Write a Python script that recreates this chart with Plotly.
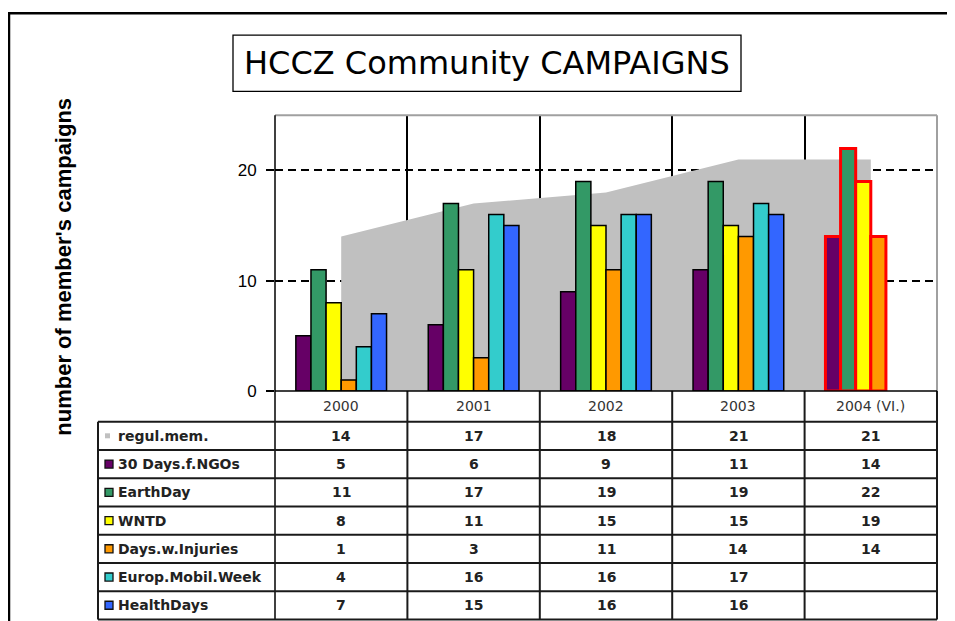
import plotly.graph_objects as go

# page body has an 8px margin; the photographed page is squeezed vertically
# by about 0.982, so vertical positions are laid out in pre-squeeze pixels.
OX, OY = 8, 8
SY = 0.982
W, H = 955 - OX, 625

# ---------------- data ----------------
years = ["2000", "2001", "2002", "2003", "2004 (VI.)"]
regul_mem = [14, 17, 18, 21, 21]
days30_ngos = [5, 6, 9, 11, 14]
earth_day = [11, 17, 19, 19, 22]
wntd = [8, 11, 15, 15, 19]
days_injuries = [1, 3, 11, 14, 14]
europ_mobil_week = [4, 16, 16, 17, None]
health_days = [7, 15, 16, 16, None]

area_name = "regul.mem."
series_names = ["30 Days.f.NGOs", "EarthDay", "WNTD", "Days.w.Injuries",
                "Europ.Mobil.Week", "HealthDays"]
series_values = [days30_ngos, earth_day, wntd, days_injuries,
                 europ_mobil_week, health_days]
y_ticks = [0, 10, 20]

# ---------------- styles ----------------
series_colors = ["#660066", "#339966", "#FFFF00", "#FF9900", "#33CCCC", "#3366FF"]
area_color = "#C0C0C0"
outline_colors = ["black", "black", "black", "black", "red"]
outline_widths = [1.5, 1.5, 1.5, 1.5, 3]

PL, PR, PT, PB = 275, 937, 115, 390          # plot area (target px)
TL = 98                                      # table left edge
HEAD_B = 420.7                               # header row bottom
n_rows = 1 + len(series_names)
TB = 618                                     # table bottom
ROW_H = (TB - HEAD_B) / n_rows
col_edges = [PL + (PR - PL) * i / len(years) for i in range(len(years) + 1)]


def px(x):
    return (x - OX) / W


def py(y):
    return 1 - (y / SY - OY) / H


fig = go.Figure()

fig.add_trace(go.Scatter(
    x=years, y=regul_mem, name=area_name, mode="lines",
    line=dict(width=0, color=area_color), fill="tozeroy",
    fillcolor=area_color, xaxis="x", yaxis="y", showlegend=False,
    hoverinfo="skip"))

for name, vals, col in zip(series_names, series_values, series_colors):
    fig.add_trace(go.Bar(
        x=years, y=vals, name=name, xaxis="x2", yaxis="y",
        marker=dict(color=col, line=dict(color=outline_colors, width=outline_widths)),
        showlegend=False))

shapes = []
annotations = []


def line(x0, y0, x1, y1, color="#1a1a1a", width=2):
    shapes.append(dict(type="line", xref="paper", yref="paper",
                       x0=px(x0), y0=py(y0), x1=px(x1), y1=py(y1),
                       line=dict(color=color, width=width), layer="above"))


# outer frame
line(8, 13, 953, 13, "black", 2.5)
line(9, 13, 9, 640, "black", 2.5)

# title box
shapes.append(dict(type="rect", xref="paper", yref="paper",
                   x0=px(233), y0=py(91), x1=px(741), y1=py(35),
                   line=dict(color="black", width=1.3), fillcolor="white"))
annotations.append(dict(text="HCCZ Community CAMPAIGNS", xref="paper", yref="paper",
                        x=px(487), y=py(63), showarrow=False, xanchor="center",
                        yanchor="middle",
                        font=dict(family="DejaVu Sans", size=32, color="black")))

# y axis title
annotations.append(dict(text="number of member's campaigns", xref="paper", yref="paper",
                        x=px(64), y=py(266), showarrow=False, textangle=-90,
                        xanchor="center", yanchor="middle",
                        font=dict(family="Liberation Sans", size=22, color="black",
                                  weight="bold")))

# plot area border (top and right, gray)
line(PL, PT, PR, PT, "#a0a0a0", 2)
line(PR, PT, PR, PB, "#a0a0a0", 2)

# table grid
for xe in col_edges[1:]:
    line(xe, PB, xe, TB)
line(PL, PT, PL, TB, "black", 1.5)
line(TL, HEAD_B, TL, TB)
line(PL, PB, PR, PB, "black", 1.5)
for r in range(n_rows + 1):
    yy = HEAD_B + ROW_H * r
    line(TL, yy, PR, yy)

# header labels
centers = [(col_edges[i] + col_edges[i + 1]) / 2 for i in range(len(years))]
for cx, yr in zip(centers, years):
    annotations.append(dict(text=yr, xref="paper", yref="paper", x=px(cx),
                            y=py((PB + HEAD_B) / 2), showarrow=False,
                            xanchor="center", yanchor="middle",
                            font=dict(family="DejaVu Sans", size=14, color="#333333")))

row_names = [area_name] + series_names
row_values = [regul_mem] + series_values
row_colors = [area_color] + series_colors
for r, (nm, vals, col) in enumerate(zip(row_names, row_values, row_colors)):
    yc = HEAD_B + ROW_H * (r + 0.5)
    if r == 0:
        shapes.append(dict(type="rect", xref="paper", yref="paper",
                           x0=px(105), x1=px(110), y0=py(yc + 2.5), y1=py(yc - 2.5),
                           line=dict(width=0), fillcolor=col))
    else:
        shapes.append(dict(type="rect", xref="paper", yref="paper",
                           x0=px(105), x1=px(113), y0=py(yc + 4), y1=py(yc - 4),
                           line=dict(width=1.3, color="#111111"), fillcolor=col))
    annotations.append(dict(text=nm, xref="paper", yref="paper", x=px(116),
                            y=py(yc), showarrow=False, xanchor="left",
                            yanchor="middle",
                            font=dict(family="DejaVu Sans", size=14, color="#222222",
                                      weight="bold")))
    for cx, v in zip(centers, vals):
        if v is None:
            continue
        annotations.append(dict(text=str(v), xref="paper", yref="paper", x=px(cx),
                                y=py(yc), showarrow=False, xanchor="center",
                                yanchor="middle",
                                font=dict(family="DejaVu Sans", size=14,
                                          color="#222222", weight="bold")))

fig.update_layout(
    width=W, height=H, margin=dict(l=0, r=0, t=0, b=0),
    paper_bgcolor="white", plot_bgcolor="white",
    barmode="group", bargap=0.315, bargroupgap=0,
    xaxis=dict(domain=[px(PL), px(PR)], type="category", range=[-0.5, 4.5],
               tickson="boundaries", showgrid=True, gridcolor="black", gridwidth=1.5,
               showticklabels=False, ticks="", showline=False, zeroline=False,
               fixedrange=True),
    xaxis2=dict(overlaying="x", type="category", range=[-0.5, 4.5], visible=False,
                fixedrange=True),
    yaxis=dict(domain=[py(PB), py(PT)], range=[0, 25], tickvals=y_ticks,
               showgrid=True, gridcolor="black", gridwidth=1.5, griddash="8px,5px",
               ticks="outside", ticklen=8, tickwidth=1.5, tickcolor="black",
               ticklabelstandoff=6, showline=False, zeroline=False,
               tickfont=dict(family="Liberation Sans", size=17, color="black"),
               fixedrange=True),
    shapes=shapes, annotations=annotations, showlegend=False,
)

fig.write_html("out.html")
